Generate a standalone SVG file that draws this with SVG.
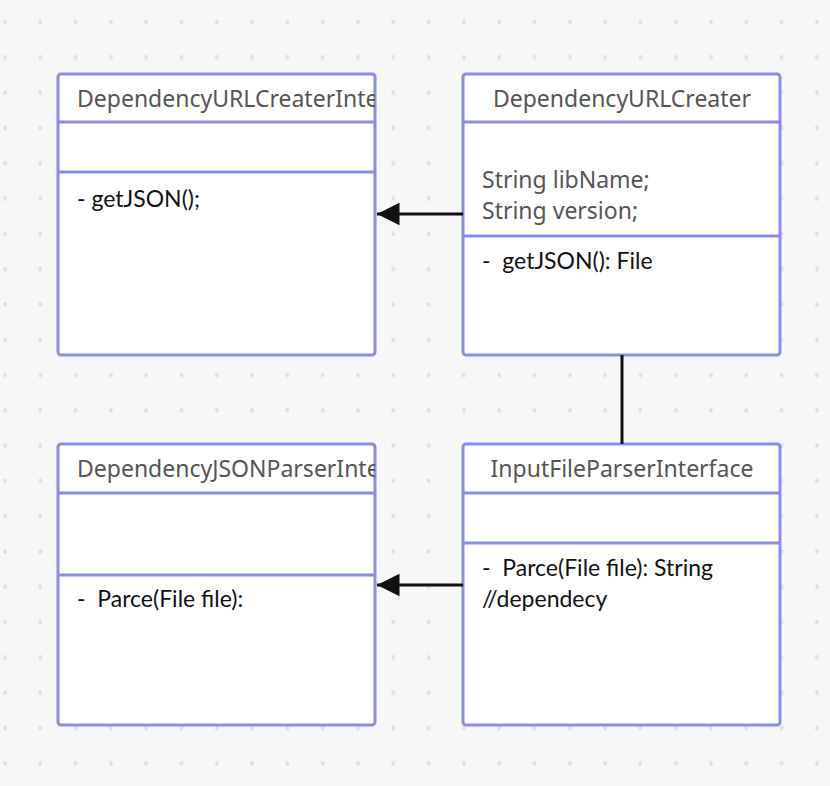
<svg xmlns="http://www.w3.org/2000/svg" width="830" height="786" viewBox="0 0 830 786">
<defs>
<pattern id="dots" x="0" y="0" width="35.3" height="35.3" patternUnits="userSpaceOnUse">
<ellipse cx="5" cy="22" rx="1.8" ry="2.4" fill="#dedee3"/>
</pattern>
<marker id="arr" viewBox="0 0 10 10" refX="10" refY="5" markerWidth="7.5" markerHeight="7.5" markerUnits="strokeWidth" orient="auto">
<path d="M0,0 L10,5 L0,10 z" fill="#111"/>
</marker>
<clipPath id="clipL1"><rect x="58" y="74" width="317" height="48"/></clipPath>
<clipPath id="clipL2"><rect x="58" y="444" width="317" height="49"/></clipPath>
</defs>
<style>
.box{fill:#fff;stroke:#8b8be8;stroke-width:3}
.div{stroke:#8b8be8;stroke-width:3}
.title{font-family:"Noto Sans","Liberation Sans",sans-serif;font-size:23px;fill:#555}
.body{font-family:Lato,"Liberation Sans",sans-serif;font-size:23px;fill:#111}
.attr{font-family:"Noto Sans","Liberation Sans",sans-serif;font-size:23px;fill:#555}
.conn{stroke:#111;stroke-width:3;fill:none}
</style>
<rect width="830" height="786" fill="#f7f7fa"/>
<rect width="830" height="786" fill="url(#dots)"/>

<g id="node-url-interface">
<rect class="box" x="58" y="74" width="317" height="281" rx="3"/>
<line class="div" x1="58" y1="122" x2="375" y2="122"/>
<line class="div" x1="58" y1="172" x2="375" y2="172"/>
<text class="title" x="77" y="107" clip-path="url(#clipL1)">DependencyURLCreaterInterface</text>
<text class="body" x="77" y="207">- getJSON();</text>
</g>

<g id="node-url-creater">
<rect class="box" x="463" y="74" width="317" height="281" rx="3"/>
<line class="div" x1="463" y1="122" x2="780" y2="122"/>
<line class="div" x1="463" y1="236" x2="780" y2="236"/>
<text class="title" x="622" y="107" text-anchor="middle">DependencyURLCreater</text>
<text class="attr" x="482" y="188">String libName;</text>
<text class="attr" x="482" y="219">String version;</text>
<text class="body" x="482" y="269" xml:space="preserve">-  getJSON(): File</text>
</g>

<g id="node-json-parser-interface">
<rect class="box" x="58" y="444" width="317" height="281" rx="3"/>
<line class="div" x1="58" y1="493" x2="375" y2="493"/>
<line class="div" x1="58" y1="575" x2="375" y2="575"/>
<text class="title" x="77" y="477" clip-path="url(#clipL2)">DependencyJSONParserInterface</text>
<text class="body" x="77" y="607" xml:space="preserve">-  Parce(File file):</text>
</g>

<g id="node-input-parser-interface">
<rect class="box" x="463" y="444" width="317" height="281" rx="3"/>
<line class="div" x1="463" y1="493" x2="780" y2="493"/>
<line class="div" x1="463" y1="543" x2="780" y2="543"/>
<text class="title" x="622" y="477" text-anchor="middle">InputFileParserInterface</text>
<text class="body" x="482" y="576" xml:space="preserve">-  Parce(File file): String</text>
<text class="body" x="482" y="607">//dependecy</text>
</g>

<g id="connectors">
<line class="conn" x1="463" y1="214" x2="377" y2="214" marker-end="url(#arr)"/>
<line class="conn" x1="463" y1="585" x2="377" y2="585" marker-end="url(#arr)"/>
<line class="conn" x1="622" y1="355" x2="622" y2="444"/>
</g>
</svg>
